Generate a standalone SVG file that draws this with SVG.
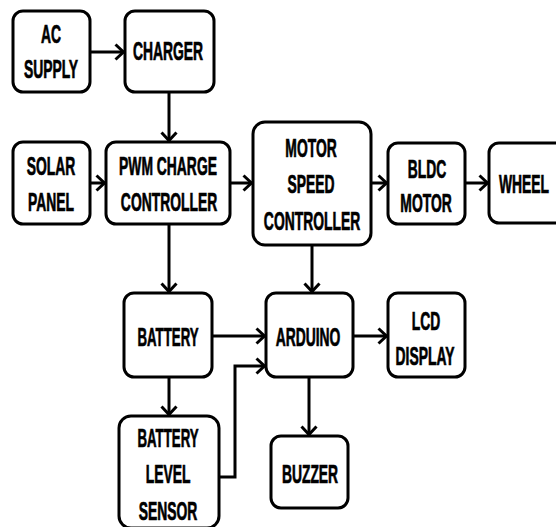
<svg xmlns="http://www.w3.org/2000/svg" width="556" height="527" viewBox="0 0 556 527">
<style>
.box{fill:#fff;stroke:#000;stroke-width:3}
.t{font-family:"Liberation Sans",Arial,sans-serif;font-weight:bold;font-size:25px;fill:#000;stroke:#000;stroke-width:0.7;text-anchor:middle}
.c{fill:none;stroke:#000;stroke-width:3;marker-end:url(#ah)}
</style>
<defs>
<marker id="ah" viewBox="0 0 12 18" refX="10.5" refY="9" markerWidth="12" markerHeight="18" markerUnits="userSpaceOnUse" orient="auto">
<path d="M2,1.5 L10,9 L2,16.5" fill="none" stroke="#000" stroke-width="3"/>
</marker>
</defs>
<rect width="556" height="527" fill="#fff"/>
<g id="connectors">
<path class="c" d="M90,52 H124"/>
<path class="c" d="M169,92 V141"/>
<path class="c" d="M90,183 H105"/>
<path class="c" d="M230,183 H252"/>
<path class="c" d="M371,183 H387"/>
<path class="c" d="M465,183 H488"/>
<path class="c" d="M169,224 V292"/>
<path class="c" d="M312,245 V292"/>
<path class="c" d="M212,336 H265"/>
<path class="c" d="M353,336 H387"/>
<path class="c" d="M169,377 V415"/>
<path class="c" d="M309,377 V435"/>
<path class="c" d="M219,477 H235 V366 H265"/>
</g>
<g id="ac-supply">
<rect class="box" x="13" y="11" width="77" height="81" rx="10"/>
<text class="t" transform="translate(51,43) scale(0.555,1)">AC</text>
<text class="t" transform="translate(51,78) scale(0.555,1)">SUPPLY</text>
</g>
<g id="charger">
<rect class="box" x="125" y="11" width="89" height="81" rx="10"/>
<text class="t" transform="translate(168,60) scale(0.555,1)">CHARGER</text>
</g>
<g id="solar-panel">
<rect class="box" x="13" y="142" width="77" height="82" rx="10"/>
<text class="t" transform="translate(51,175) scale(0.555,1)">SOLAR</text>
<text class="t" transform="translate(51,211) scale(0.555,1)">PANEL</text>
</g>
<g id="pwm-charge-controller">
<rect class="box" x="106" y="142" width="124" height="82" rx="10"/>
<text class="t" transform="translate(168,175) scale(0.555,1)">PWM CHARGE</text>
<text class="t" transform="translate(169,211) scale(0.555,1)">CONTROLLER</text>
</g>
<g id="motor-speed-controller">
<rect class="box" x="253" y="122" width="118" height="123" rx="12"/>
<text class="t" transform="translate(311,157) scale(0.555,1)">MOTOR</text>
<text class="t" transform="translate(311,193) scale(0.555,1)">SPEED</text>
<text class="t" transform="translate(312,230) scale(0.555,1)">CONTROLLER</text>
</g>
<g id="bldc-motor">
<rect class="box" x="388" y="143" width="77" height="81" rx="10"/>
<text class="t" transform="translate(427,178) scale(0.555,1)">BLDC</text>
<text class="t" transform="translate(426,212) scale(0.555,1)">MOTOR</text>
</g>
<g id="wheel">
<rect class="box" x="489" y="143" width="80" height="80" rx="10"/>
<text class="t" transform="translate(524,193) scale(0.555,1)">WHEEL</text>
</g>
<g id="battery">
<rect class="box" x="124" y="293" width="88" height="84" rx="10"/>
<text class="t" transform="translate(168,346) scale(0.53,1)">BATTERY</text>
</g>
<g id="arduino">
<rect class="box" x="266" y="293" width="87" height="84" rx="10"/>
<text class="t" transform="translate(308,346) scale(0.555,1)">ARDUINO</text>
</g>
<g id="lcd-display">
<rect class="box" x="388" y="293" width="77" height="84" rx="10"/>
<text class="t" transform="translate(426,330) scale(0.555,1)">LCD</text>
<text class="t" transform="translate(425,365) scale(0.555,1)">DISPLAY</text>
</g>
<g id="battery-level-sensor">
<rect class="box" x="119" y="416" width="100" height="112" rx="12"/>
<text class="t" transform="translate(168,447) scale(0.53,1)">BATTERY</text>
<text class="t" transform="translate(168,483) scale(0.555,1)">LEVEL</text>
<text class="t" transform="translate(168,520) scale(0.555,1)">SENSOR</text>
</g>
<g id="buzzer">
<rect class="box" x="271" y="436" width="77" height="72" rx="10"/>
<text class="t" transform="translate(310,483) scale(0.555,1)">BUZZER</text>
</g>
</svg>
